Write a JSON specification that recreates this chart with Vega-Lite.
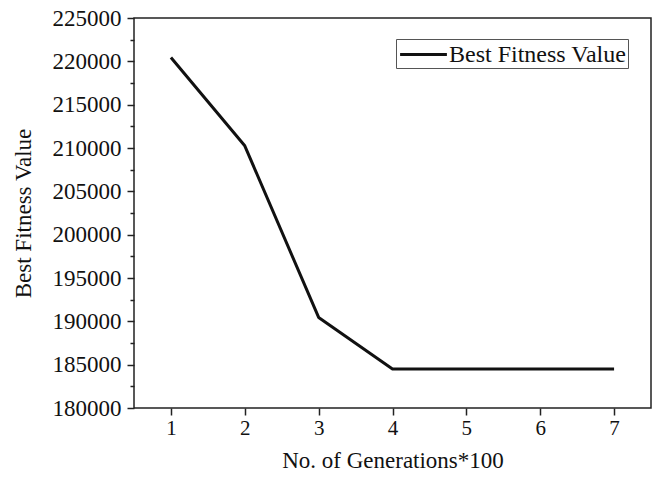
{
  "$schema": "https://vega.github.io/schema/vega-lite/v6.json",
  "width": 517,
  "height": 390,
  "autosize": {"type": "none"},
  "padding": {"left": 134, "top": 18, "right": 5, "bottom": 69},
  "background": "white",
  "config": {
    "view": {"stroke": "#222", "strokeWidth": 1.5},
    "font": "Liberation Serif",
    "axis": {
      "labelFont": "Liberation Serif",
      "titleFont": "Liberation Serif",
      "labelColor": "#111",
      "titleColor": "#111",
      "titleFontWeight": "normal",
      "labelFontSize": 21,
      "titleFontSize": 23,
      "grid": false,
      "domain": false,
      "tickColor": "#222",
      "tickWidth": 1.5
    },
    "legend": {"labelFont": "Liberation Serif", "labelFontSize": 24, "labelColor": "#111", "labelLimit": 400}
  },
  "data": {
    "values": [
      {"gen": 1, "fitness": 220450, "series": "Best Fitness Value"},
      {"gen": 2, "fitness": 210250, "series": "Best Fitness Value"},
      {"gen": 3, "fitness": 190450, "series": "Best Fitness Value"},
      {"gen": 4, "fitness": 184500, "series": "Best Fitness Value"},
      {"gen": 5, "fitness": 184500, "series": "Best Fitness Value"},
      {"gen": 6, "fitness": 184500, "series": "Best Fitness Value"},
      {"gen": 7, "fitness": 184500, "series": "Best Fitness Value"}
    ]
  },
  "mark": {"type": "line", "strokeWidth": 3, "strokeJoin": "round"},
  "encoding": {
    "x": {
      "field": "gen",
      "type": "quantitative",
      "scale": {"domain": [0.5, 7.5], "nice": false, "zero": false},
      "axis": {
        "title": "No. of Generations*100",
        "values": [1, 1.5, 2, 2.5, 3, 3.5, 4, 4.5, 5, 5.5, 6, 6.5, 7],
        "labelExpr": "datum.value % 1 === 0 ? datum.label : ''",
        "format": "d",
        "tickSize": {"condition": {"test": "datum.value % 1 === 0", "value": 7}, "value": 4},
        "labelPadding": 2,
        "titlePadding": 11
      }
    },
    "y": {
      "field": "fitness",
      "type": "quantitative",
      "scale": {"domain": [180000, 225000], "nice": false, "zero": false},
      "axis": {
        "title": "Best Fitness Value",
        "values": [180000, 182500, 185000, 187500, 190000, 192500, 195000, 197500, 200000, 202500, 205000, 207500, 210000, 212500, 215000, 217500, 220000, 222500, 225000],
        "format": "d",
        "labelExpr": "datum.value % 5000 === 0 ? datum.label : ''",
        "labelFontSize": 23,
        "tickSize": {"condition": {"test": "datum.value % 5000 === 0", "value": 7}, "value": 4},
        "labelPadding": 6,
        "titlePadding": 17
      }
    },
    "color": {
      "field": "series",
      "type": "nominal",
      "scale": {"range": ["#111"]},
      "legend": {
        "title": null,
        "orient": "none",
        "legendX": 262,
        "legendY": 21,
        "strokeColor": "#555",
        "padding": 1,
        "symbolType": "M-1.8,0H1.8",
        "symbolSize": 676,
        "symbolStrokeWidth": 3,
        "symbolOffset": 12,
        "labelOffset": 11
      }
    }
  }
}
